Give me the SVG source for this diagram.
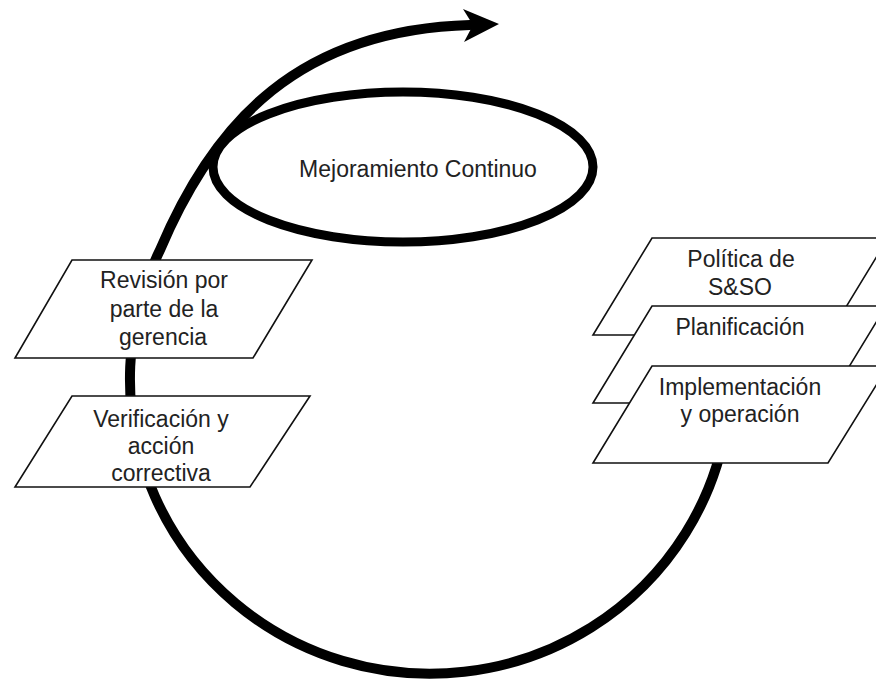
<svg xmlns="http://www.w3.org/2000/svg" width="876" height="682" viewBox="0 0 876 682">
<style>
.curve{fill:none;stroke:#000;stroke-width:10;stroke-linecap:round}
.box{fill:#fff;stroke:#111;stroke-width:1.6;stroke-linejoin:miter}
.lbl{font-family:"Liberation Sans",Arial,sans-serif;font-size:23px;fill:#222;text-anchor:middle}
</style>
<rect width="876" height="682" fill="#fff"/>
<g id="connectors">
<path class="curve" d="M 727 420 A 300 295 0 1 1 160 250 C 215 120 300 30 470 25"/>
<polygon points="463,9 499,24 464,42 473,25" fill="#000"/>
</g>
<g id="mejoramiento">
<ellipse cx="403" cy="167" rx="190" ry="75" fill="none" stroke="#000" stroke-width="9"/>
<text class="lbl" x="418" y="177">Mejoramiento Continuo</text>
</g>
<g id="revision">
<polygon class="box" points="72,260 312,260 253,358 15,358"/>
<text class="lbl" x="164" y="288">Revisión por</text>
<text class="lbl" x="164" y="317">parte de la</text>
<text class="lbl" x="163" y="345">gerencia</text>
</g>
<g id="verificacion">
<polygon class="box" points="72,396 310,396 250,487 15,487"/>
<text class="lbl" x="161" y="427">Verificación y</text>
<text class="lbl" x="161" y="454">acción</text>
<text class="lbl" x="161" y="481">correctiva</text>
</g>
<g id="politica">
<polygon class="box" points="652,238 888,238 829,335 593,335"/>
<text class="lbl" x="741" y="267">Política de</text>
<text class="lbl" x="740" y="295">S&amp;SO</text>
</g>
<g id="planificacion">
<polygon class="box" points="652,306 886,306 827,403 593,403"/>
<text class="lbl" x="740" y="335">Planificación</text>
</g>
<g id="implementacion">
<polygon class="box" points="652,366 888,366 828,463 593,463"/>
<text class="lbl" x="740" y="395">Implementación</text>
<text class="lbl" x="740" y="422">y operación</text>
</g>
</svg>
